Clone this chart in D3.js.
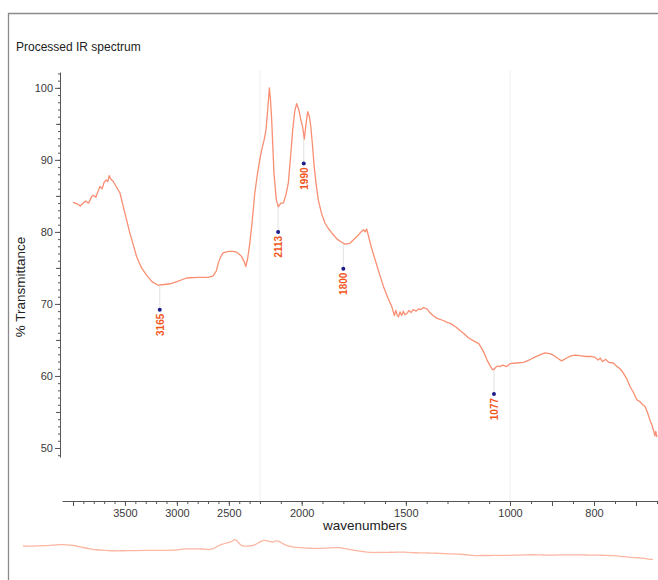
<!DOCTYPE html>
<html>
<head>
<meta charset="utf-8">
<script src="https://cdn.jsdelivr.net/npm/d3@7"></script>
<style>
  html, body { margin: 0; padding: 0; background: #fff; }
  svg { display: block; font-family: "Liberation Sans", Arial, Helvetica, sans-serif; }
</style>
</head>
<body>
<svg id="chart" width="658" height="580"></svg>
<script>
// ---------- DATA ----------
const wavenumbers = [4000,3960,3930,3917,3880,3850,3820,3805,3780,3760,3740,3720,3700,3680,3665,3651,3635,3612,3580,3548,3516,3452,3388,3340,3292,3240,3180,3120,3067,3000,2907,2800,2700,2651,2620,2603,2580,2555,2500,2460,2426,2400,2378,2350,2337,2320,2298,2275,2250,2225,2200,2192,2180,2171,2163,2155,2150,2144,2133,2122,2112,2100,2088,2075,2064,2053,2043,2033,2024,2014,2004,1995,1987,1980,1971,1963,1956,1948,1940,1930,1920,1905,1888,1870,1848,1830,1810,1791,1770,1751,1730,1715,1703,1695,1688,1679,1665,1647,1627,1607,1587,1567,1555,1548,1542,1535,1528,1520,1512,1505,1494,1485,1475,1465,1450,1440,1430,1415,1398,1385,1370,1350,1320,1300,1286,1260,1240,1222,1200,1170,1150,1135,1120,1110,1095,1085,1078,1068,1060,1048,1035,1016,1000,985,968,955,945,930,917,905,897,885,877,865,855,845,830,818,805,798,790,785,780,772,765,754,745,738,730,722,714,706,698,690,684,679,673,667,662,658,655,653,650];
const transmittance = [84.1,83.9,83.6,83.8,84.3,84.0,84.9,85.1,84.8,85.6,86.3,86.0,86.9,87.2,87.0,87.8,87.3,87.0,86.2,85.4,83.5,79.8,76.6,75.0,74.0,73.1,72.6,72.7,72.8,73.1,73.6,73.7,73.7,73.9,74.6,75.6,76.5,77.1,77.3,77.3,77.2,76.9,76.6,75.8,75.2,76.2,78.4,81.5,85.4,88.0,90.2,91.4,92.8,94.2,97.0,100.0,98.5,95.6,88.2,84.5,83.5,84.0,84.0,85.2,86.8,90.5,94.2,96.8,97.8,97.0,95.6,94.5,92.9,94.8,96.7,96.0,94.6,92.0,89.1,86.5,84.4,82.6,81.2,80.4,79.6,79.0,78.6,78.3,78.4,78.9,79.5,80.0,80.3,80.0,80.4,79.4,77.8,76.1,74.2,72.4,70.9,69.6,68.4,69.1,68.5,68.2,68.9,68.4,69.0,68.5,68.7,69.1,68.8,69.2,69.0,69.3,69.2,69.5,69.3,68.8,68.4,68.0,67.7,67.4,67.3,66.8,66.3,65.9,65.3,64.8,64.5,63.8,62.9,62.2,61.4,60.9,60.9,61.2,61.4,61.3,61.5,61.3,61.7,61.8,61.9,62.2,62.5,62.9,63.2,63.1,62.9,62.4,62.1,62.5,62.8,62.9,62.8,62.7,62.7,62.6,62.2,62.5,62.0,62.3,61.9,61.8,61.3,61.0,60.4,59.6,58.5,57.7,56.7,56.4,56.0,55.8,55.0,53.9,53.2,52.4,51.7,52.3,51.5];

const peakWavenumbers = [3165, 2113, 1990, 1800, 1077];
const peakLabels = ["3165", "2113", "1990", "1800", "1077"];
const peakMarkerValues = [69.2, 80.0, 89.5, 74.9, 57.5];

const xTickLabels = [3500, 3000, 2500, 2000, 1500, 1000, 800];
const yTickLabels = [50, 60, 70, 80, 90, 100];
const breakLines = [2200, 1000];

const titleText = "Processed IR spectrum";
const xAxisTitle = "wavenumbers";
const yAxisTitle = "% Transmittance";

// ---------- SCALES ----------
const svg = d3.select("#chart");
const spectrum = wavenumbers.map((w, i) => ({ w, t: transmittance[i] }));

const x = d3.scaleLinear()
  .domain([4105, 4000, 2200, 1000, 650])
  .range([62, 73, 260, 510, 657]);
const y = d3.scaleLinear().domain([48.75, 102.2]).range([457, 72]);

const xMini = d3.scaleLinear()
  .domain([4000, 2200, 1000, 650])
  .range([23, 224.7, 494.4, 653]);
const yMini = d3.scaleLinear().domain([48.75, 102.2]).range([560.8, 538.4]);

const curveColor = "#f98f72";
const textColor = "#3a3a3a";
const axisColor = "#555";

// ---------- FRAME ----------
svg.append("path")
  .attr("d", "M8.5,585 V13.5 H665")
  .attr("fill", "none").attr("stroke", "#8a8a8a").attr("stroke-width", 1.3);

svg.append("text")
  .attr("x", 16).attr("y", 51)
  .attr("font-size", 12).attr("fill", "#222")
  .text(titleText);

// ---------- BREAK LINES ----------
svg.append("g").selectAll("line").data(breakLines).join("line")
  .attr("x1", d => x(d)).attr("x2", d => x(d))
  .attr("y1", 70).attr("y2", 500)
  .attr("stroke", "#f0f0f0").attr("stroke-width", 1);

// ---------- AXES ----------
const xAxisY = 501;
const minorX = [];
for (let w = 4000; w >= 1000; w -= 100) minorX.push(w);
for (let w = 950; w >= 650; w -= 50) minorX.push(w);
const midX = [4000, 900, 700];
const fmt = d3.format("d");

const gxMinor = svg.append("g").attr("transform", `translate(0,${xAxisY})`)
  .call(d3.axisBottom(x).tickValues(minorX).tickSize(3).tickFormat("").tickSizeOuter(0));
const gxMid = svg.append("g").attr("transform", `translate(0,${xAxisY})`)
  .call(d3.axisBottom(x).tickValues(midX).tickSize(5).tickFormat("").tickSizeOuter(0));
gxMid.select(".domain").remove();
const gx = svg.append("g").attr("transform", `translate(0,${xAxisY})`)
  .call(d3.axisBottom(x).tickValues(xTickLabels).tickFormat(fmt).tickSize(5).tickPadding(3).tickSizeOuter(0));
gx.select(".domain").remove();
[gxMinor, gxMid, gx].forEach(g => {
  g.selectAll("path,line").attr("stroke", axisColor);
  g.selectAll("text").attr("font-size", 11).attr("fill", textColor)
    .attr("font-family", "Liberation Sans, Arial, sans-serif");
});

svg.append("text")
  .attr("x", 365).attr("y", 530)
  .attr("text-anchor", "middle").attr("font-size", 13.5).attr("fill", "#222")
  .text(xAxisTitle);

const yAxisX = 60;
const minorY = d3.range(49, 103, 1);
const midY = d3.range(55, 101, 10);
const gyMinor = svg.append("g").attr("transform", `translate(${yAxisX},0)`)
  .call(d3.axisLeft(y).tickValues(minorY).tickSize(2).tickFormat("").tickSizeOuter(0));
const gyMid = svg.append("g").attr("transform", `translate(${yAxisX},0)`)
  .call(d3.axisLeft(y).tickValues(midY).tickSize(4).tickFormat("").tickSizeOuter(0));
gyMid.select(".domain").remove();
const gy = svg.append("g").attr("transform", `translate(${yAxisX},0)`)
  .call(d3.axisLeft(y).tickValues(yTickLabels).tickFormat(fmt).tickSize(5).tickPadding(2).tickSizeOuter(0));
gy.select(".domain").remove();
[gyMinor, gyMid, gy].forEach(g => {
  g.selectAll("path,line").attr("stroke", axisColor);
  g.selectAll("text").attr("font-size", 11).attr("fill", textColor)
    .attr("font-family", "Liberation Sans, Arial, sans-serif");
});

svg.append("text")
  .attr("transform", "translate(25,287) rotate(-90)")
  .attr("text-anchor", "middle").attr("font-size", 13.5).attr("fill", "#222")
  .text(yAxisTitle);

// ---------- PEAK MARKERS ----------
function interp(w) {
  for (let i = 0; i < spectrum.length - 1; i++) {
    const a = spectrum[i], b = spectrum[i + 1];
    if (w <= a.w && w >= b.w) {
      const f = (a.w - w) / (a.w - b.w);
      return a.t + f * (b.t - a.t);
    }
  }
  return spectrum[spectrum.length - 1].t;
}
const peaks = peakWavenumbers.map((w, i) => ({ w, label: peakLabels[i], v: peakMarkerValues[i] }));
const gp = svg.append("g");
gp.selectAll("line").data(peaks).join("line")
  .attr("x1", d => x(d.w)).attr("x2", d => x(d.w))
  .attr("y1", d => y(interp(d.w))).attr("y2", d => y(d.v))
  .attr("stroke", "#e2e2e2").attr("stroke-width", 1);

// ---------- SPECTRUM ----------
svg.append("path")
  .datum(spectrum)
  .attr("fill", "none")
  .attr("stroke", curveColor)
  .attr("stroke-width", 1.3)
  .attr("stroke-linejoin", "round")
  .attr("d", d3.line().x(d => x(d.w)).y(d => y(d.t)));

gp.selectAll("circle").data(peaks).join("circle")
  .attr("cx", d => x(d.w)).attr("cy", d => y(d.v))
  .attr("r", 2).attr("fill", "#1c1c8a");
gp.selectAll("text").data(peaks).join("text")
  .attr("transform", d => `translate(${x(d.w) + 0.5},${y(d.v) + 4}) rotate(-90)`)
  .attr("text-anchor", "end").attr("dy", "0.35em")
  .attr("font-size", 10).attr("font-weight", "bold").attr("fill", "#f2561d")
  .text(d => d.label);

// ---------- OVERVIEW ----------
svg.append("path")
  .datum(spectrum)
  .attr("fill", "none")
  .attr("stroke", "#fbb7a2")
  .attr("stroke-width", 1.3)
  .attr("d", d3.line().x(d => xMini(d.w)).y(d => yMini(d.t)).curve(d3.curveBasis));
</script>
</body>
</html>
